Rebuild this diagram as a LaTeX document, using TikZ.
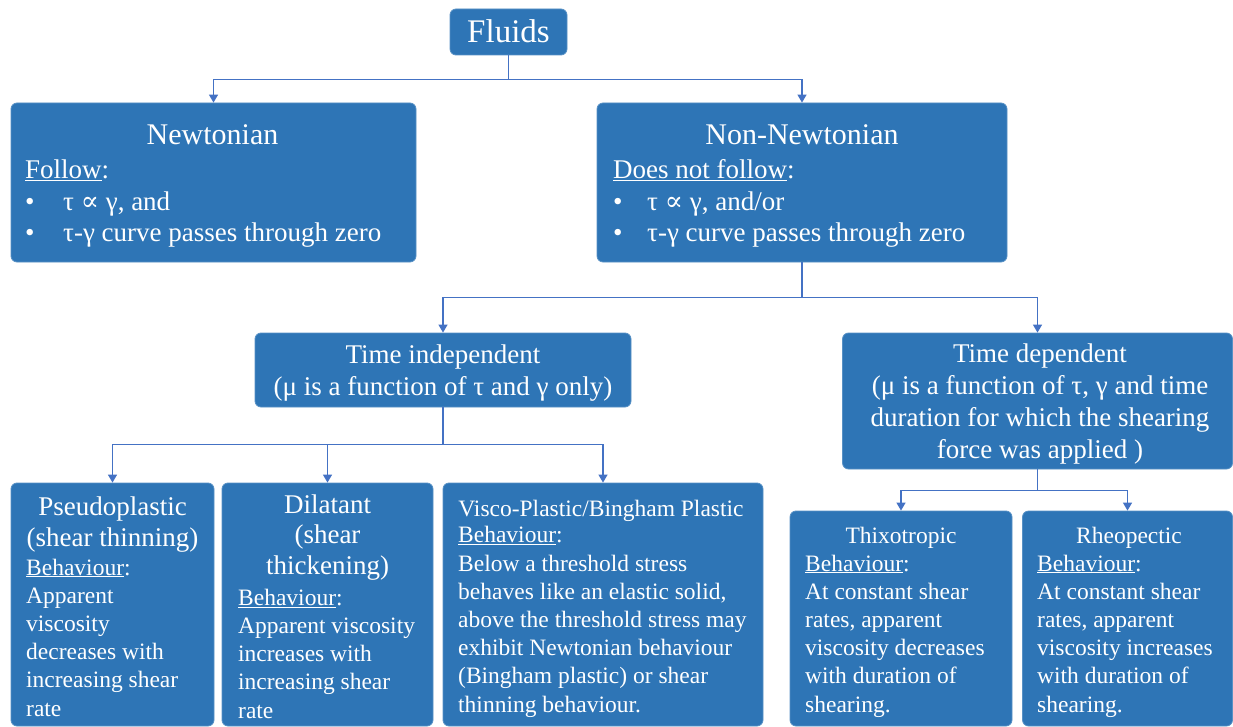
\documentclass[tikz,border=0pt]{standalone}
\usepackage{fontspec}
\setmainfont{Liberation Serif}
\newfontfamily\propfont{DejaVu Serif}
\usetikzlibrary{positioning,arrows.meta,calc}
\definecolor{boxblue}{HTML}{2E75B6}
\definecolor{lineblue}{HTML}{4472C4}
\newcommand{\prop}{{\propfont ∝}}

\begin{document}
\begin{tikzpicture}[
    x=1pt, y=-1pt,
    box/.style={rectangle, rounded corners=6, fill=boxblue, draw=boxblue!80!white, line width=0.8, inner sep=0},
    connector/.style={draw=lineblue, line width=1.3, -{Triangle[length=8,width=9]}},
    fork/.style={draw=lineblue, line width=1.3},
    head/.style={text=white, align=center, inner sep=0, anchor=base},
    body/.style={text=white, align=left, inner sep=0, anchor=base west},
    big/.style={font=\fontsize{27}{31.5}\selectfont},
    small/.style={font=\fontsize{23.5}{28.2}\selectfont}
]
\useasboundingbox (0,0) rectangle (1233,727);

% Fluids node
\node[box, minimum width=117, minimum height=46] (fluids) at (508.5,32) {};
\node[head, font=\fontsize{33}{38}\selectfont] (fluids-t) at (508.5,43) {Fluids};

% Newtonian node (multi-line texts sit on their last baseline)
\node[box, minimum width=405, minimum height=159] (newt) at (213.5,182.5) {};
\node[head, font=\fontsize{30}{36}\selectfont] (newt-t) at (212.5,145) {Newtonian};
\node[body, big] (newt-b) at (25,242) {\underline{Follow}:\\\makebox[38pt][l]{•}τ \prop{} γ, and\\\makebox[38pt][l]{•}τ-γ curve passes through zero};

% Non-Newtonian node
\node[box, minimum width=410, minimum height=159] (nonnewt) at (802,182.5) {};
\node[head, font=\fontsize{30}{36}\selectfont] (nonnewt-t) at (802,145) {Non-Newtonian};
\node[body, big] (nonnewt-b) at (613,242) {\underline{Does not follow}:\\\makebox[34pt][l]{•}τ \prop{} γ, and/or\\\makebox[34pt][l]{•}τ-γ curve passes through zero};

% Time independent node
\node[box, minimum width=376, minimum height=74] (timeind) at (443,370) {};
\node[head, font=\fontsize{27}{32}\selectfont] (timeind-t) at (443,395) {Time independent\\(μ is a function of τ and γ only)};

% Time dependent node
\node[box, minimum width=390, minimum height=136] (timedep) at (1037.5,401) {};
\node[head, font=\fontsize{27}{31.7}\selectfont] (timedep-t) at (1040,458) {Time dependent\\(μ is a function of τ, γ and time\\duration for which the shearing\\force was applied )};

% Pseudoplastic node
\node[box, minimum width=203, minimum height=243] (pseudo) at (112.5,604.5) {};
\node[head, font=\fontsize{27}{31}\selectfont] (pseudo-t) at (112.5,546) {Pseudoplastic\\(shear thinning)};
\node[body, small] (pseudo-b) at (26,716) {\underline{Behaviour}:\\Apparent\\viscosity\\decreases with\\increasing shear\\rate};

% Dilatant node
\node[box, minimum width=211, minimum height=243] (dilat) at (327.5,604.5) {};
\node[head, font=\fontsize{27}{30.5}\selectfont] (dilat-t) at (327.5,574) {Dilatant\\(shear\\thickening)};
\node[body, small] (dilat-b) at (238,718) {\underline{Behaviour}:\\Apparent viscosity\\increases with\\increasing shear\\rate};

% Visco-plastic node
\node[box, minimum width=320, minimum height=243] (visco) at (603,604.5) {};
\node[head, small] (visco-t) at (601,516) {Visco-Plastic/Bingham Plastic};
\node[body, small] (visco-b) at (458,712) {\underline{Behaviour}:\\Below a threshold stress\\behaves like an elastic solid,\\above the threshold stress may\\exhibit Newtonian behaviour\\(Bingham plastic) or shear\\thinning behaviour.};

% Thixotropic node
\node[box, minimum width=222, minimum height=215] (thixo) at (901,618.5) {};
\node[head, small] (thixo-t) at (901,543) {Thixotropic};
\node[body, small] (thixo-b) at (805,712) {\underline{Behaviour}:\\At constant shear\\rates, apparent\\viscosity decreases\\with duration of\\shearing.};

% Rheopectic node
\node[box, minimum width=210, minimum height=215] (rheo) at (1127.5,618.5) {};
\node[head, small] (rheo-t) at (1129,543) {Rheopectic};
\node[body, small] (rheo-b) at (1037,712) {\underline{Behaviour}:\\At constant shear\\rates, apparent\\viscosity increases\\with duration of\\shearing.};

% Forks
\coordinate (fork1) at ($(fluids.south)+(0,24)$);
\coordinate (fork2) at ($(nonnewt.south)+(0,35)$);
\coordinate (fork3) at ($(timeind.south)+(0,37)$);
\coordinate (fork4) at ($(timedep.south)+(0,21)$);

% Connectors
\draw[fork] (fluids.south) -- (fork1);
\draw[connector] (fork1) -| (newt.north);
\draw[connector] (fork1) -| (nonnewt.north);

\draw[fork] (nonnewt.south) -- (fork2);
\draw[connector] (fork2) -| (timeind.north);
\draw[connector] (fork2) -| (timedep.north);

\draw[fork] (timeind.south) -- (fork3);
\draw[connector] (fork3) -| (pseudo.north);
\draw[connector] (fork3) -| (dilat.north);
\draw[connector] (fork3) -| (visco.north);

\draw[fork] (timedep.south) -- (fork4);
\draw[connector] (fork4) -| (thixo.north);
\draw[connector] (fork4) -| (rheo.north);

\end{tikzpicture}
\end{document}
